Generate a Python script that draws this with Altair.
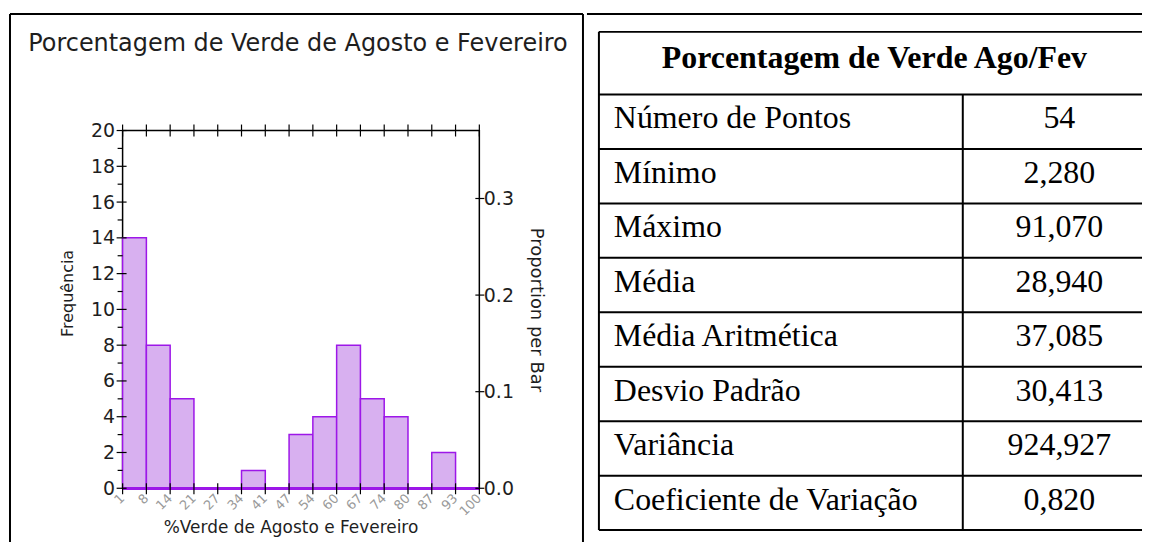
import altair as alt
import pandas as pd

# ---------------- data ----------------
bin_edges = [1.0, 7.6, 14.2, 20.8, 27.4, 34.0, 40.6, 47.2, 53.8, 60.4, 67.0, 73.6, 80.2, 86.8, 93.4, 100.0]
edge_labels = ["1", "8", "14", "21", "27", "34", "41", "47", "54", "60", "67", "74", "80", "87", "93", "100"]
counts = [14, 8, 5, 0, 0, 1, 0, 3, 4, 8, 5, 4, 0, 2, 0]
freq_major = [0, 2, 4, 6, 8, 10, 12, 14, 16, 18, 20]
freq_minor = [1, 3, 5, 7, 9, 11, 13, 15, 17, 19]
prop_ticks = [0.0, 0.1, 0.2, 0.3]

hist_title = "Porcentagem de Verde de Agosto e Fevereiro"
x_title = "%Verde de Agosto e Fevereiro"
y_title = "Frequência"
y2_title = "Proportion per Bar"

table_title = "Porcentagem de Verde Ago/Fev"
stat_names = ["Número de Pontos", "Mínimo", "Máximo", "Média", "Média Aritmética",
              "Desvio Padrão", "Variância", "Coeficiente de Variação"]
stat_values = ["54", "2,280", "91,070", "28,940", "37,085", "30,413", "924,927", "0,820"]

# ---------------- style ----------------
SANS = "DejaVu Sans"
SERIF = "Liberation Serif"
INK = "#1e1e1e"
PURPLE = "#9d17e8"
BAR_FILL = "#d8b0f0"
GRAY = "#9a9a9a"

W, H = 358, 359
n_points = sum(counts)

xs = alt.Scale(domain=[bin_edges[0], bin_edges[-1]], nice=False, zero=False)
ys = alt.Scale(domain=[0, 20], nice=False, zero=True)
ps = alt.Scale(domain=[0, 20 / n_points], nice=False, zero=True)

bins_df = pd.DataFrame({"lo": bin_edges[:-1], "hi": bin_edges[1:], "count": counts})
edges_df = pd.DataFrame({"edge": bin_edges, "label": edge_labels})
major_df = pd.DataFrame({"v": freq_major})
minor_df = pd.DataFrame({"v": freq_minor})
prop_df = pd.DataFrame({"p": prop_ticks})
htitle_df = pd.DataFrame({"t": [hist_title]})
xtitle_df = pd.DataFrame({"t": [x_title]})

bars = alt.Chart(bins_df).mark_rect(fill=BAR_FILL, stroke=PURPLE, strokeWidth=1.5).encode(
    x=alt.X("lo:Q", scale=xs, axis=None),
    x2="hi:Q",
    y=alt.Y("count:Q", scale=ys, axis=alt.Axis(
        values=freq_major, title=y_title, ticks=False, domain=False, grid=False,
        labelFont=SANS, labelFontSize=19, labelColor=INK, labelPadding=8, labelOverlap=False,
        titleFont=SANS, titleFontSize=16, titleFontWeight="normal", titleColor=INK,
        titlePadding=15, titleY=163)),
    y2=alt.Y2Datum(0),
)

baseline = alt.Chart(bins_df).mark_rule(color=PURPLE, strokeWidth=2).encode(
    x=alt.XDatum(bin_edges[0], scale=xs, axis=None),
    x2=alt.X2Datum(bin_edges[-1]),
    y=alt.YDatum(0, scale=ys, axis=None),
)

top_ticks = alt.Chart(edges_df).mark_rule(color="black", strokeWidth=1.2).encode(
    x=alt.X("edge:Q", scale=xs, axis=None), y=alt.value(-6), y2=alt.value(6))
bottom_ticks = alt.Chart(edges_df).mark_rule(color="black", strokeWidth=1.2).encode(
    x=alt.X("edge:Q", scale=xs, axis=None), y=alt.value(H - 5), y2=alt.value(H + 6))
major_ticks = alt.Chart(major_df).mark_rule(color="black", strokeWidth=1.2).encode(
    y=alt.Y("v:Q", scale=ys, axis=None), x=alt.value(-6), x2=alt.value(4))
minor_ticks = alt.Chart(minor_df).mark_rule(color="black", strokeWidth=1.2).encode(
    y=alt.Y("v:Q", scale=ys, axis=None), x=alt.value(-5), x2=alt.value(0))
prop_rules = alt.Chart(prop_df).mark_rule(color="black", strokeWidth=1.2).encode(
    y=alt.Y("p:Q", scale=ps, axis=alt.Axis(
        orient="right", values=prop_ticks, format=".1f", title=y2_title,
        ticks=False, domain=False, grid=False,
        labelFont=SANS, labelFontSize=19, labelColor=INK, labelPadding=4, labelOverlap=False,
        titleFont=SANS, titleFontSize=18, titleFontWeight="normal", titleColor=INK,
        titlePadding=13, titleAngle=90)),
    x=alt.value(W - 4), x2=alt.value(W + 5))

xlabels = alt.Chart(edges_df).mark_text(
    font=SANS, fontSize=13, color=GRAY, angle=315, align="right", baseline="middle"
).encode(x=alt.X("edge:Q", scale=xs, axis=None), y=alt.value(H + 8), text="label:N")

htitle = alt.Chart(htitle_df).mark_text(
    font=SANS, fontSize=24, color=INK, align="center", baseline="middle"
).encode(x=alt.value(176), y=alt.value(-87), text="t:N")

xtitle = alt.Chart(xtitle_df).mark_text(
    font=SANS, fontSize=17, color=INK, align="center", baseline="middle"
).encode(x=alt.value(169), y=alt.value(399), text="t:N")

frame_left = alt.Chart(htitle_df).mark_rule(color="black", strokeWidth=2).encode(
    x=alt.value(-113), y=alt.value(-117), y2=alt.value(420))
frame_top = alt.Chart(htitle_df).mark_rule(color="black", strokeWidth=2).encode(
    x=alt.value(-113), x2=alt.value(462), y=alt.value(-117))
frame_div = alt.Chart(htitle_df).mark_rule(color="black", strokeWidth=2).encode(
    x=alt.value(462), y=alt.value(-117), y2=alt.value(420))

left = alt.layer(
    bars, baseline, top_ticks, bottom_ticks, major_ticks, minor_ticks, prop_rules,
    xlabels, htitle, xtitle, frame_left, frame_top, frame_div,
    view=alt.ViewBackground(stroke="black", strokeWidth=1.5),
).resolve_scale(y="independent").properties(width=W, height=H)

# ---------------- table ----------------
# the table panel shares its origin row with the histogram plot (page y 129);
# its y range reaches up to the table top (page y 30) and down to its bottom (page y 530)
TW = 545
SPLIT = 0.67
tx = alt.Scale(domain=[0, 1], nice=False, zero=False)
ty = alt.Scale(domain=[-1.15, 8], range=[-99, 401], nice=False, zero=False)

rows_df = pd.DataFrame({"row": list(range(1, len(stat_names) + 1)),
                        "name": stat_names, "value": stat_values})
rows_df["top"] = rows_df["row"] - 1
hline_df = pd.DataFrame({"e": [-1.15] + list(range(0, len(stat_names) + 1))})
ttitle_df = pd.DataFrame({"t": [table_title]})

names = alt.Chart(rows_df).mark_text(
    font=SERIF, fontSize=32, color="black", align="left", baseline="alphabetic", dx=15, dy=34
).encode(x=alt.XDatum(0, scale=tx, axis=None), y=alt.Y("top:Q", scale=ty, axis=None), text="name:N")

vals = alt.Chart(rows_df).mark_text(
    font=SERIF, fontSize=32, color="black", align="center", baseline="alphabetic", dx=7, dy=34
).encode(x=alt.XDatum((SPLIT + 1) / 2, scale=tx, axis=None),
         y=alt.Y("top:Q", scale=ty, axis=None), text="value:N")

thead = alt.Chart(ttitle_df).mark_text(
    font=SERIF, fontSize=32, fontWeight="bold", color="black", align="center",
    baseline="alphabetic", dx=4, dy=36
).encode(x=alt.XDatum(0.5, scale=tx, axis=None), y=alt.YDatum(-1.15, scale=ty, axis=None), text="t:N")

hlines = alt.Chart(hline_df).mark_rule(color="black", strokeWidth=2).encode(
    x=alt.XDatum(0, scale=tx, axis=None), x2=alt.X2Datum(1),
    y=alt.Y("e:Q", scale=ty, axis=None))
vleft = alt.Chart(ttitle_df).mark_rule(color="black", strokeWidth=2).encode(
    x=alt.XDatum(0, scale=tx, axis=None),
    y=alt.YDatum(-1.15, scale=ty, axis=None), y2=alt.Y2Datum(8))
vsplit = alt.Chart(ttitle_df).mark_rule(color="black", strokeWidth=2).encode(
    x=alt.XDatum(SPLIT, scale=tx, axis=None),
    y=alt.YDatum(0, scale=ty, axis=None), y2=alt.Y2Datum(8))
frame_top2 = alt.Chart(ttitle_df).mark_rule(color="black", strokeWidth=2).encode(
    x=alt.value(-12), x2=alt.value(TW), y=alt.value(-117))

right = alt.layer(
    hlines, vleft, vsplit, frame_top2, thead, names, vals,
    view=alt.ViewBackground(stroke="transparent"),
).properties(width=TW, height=H)

chart = alt.hconcat(left, right, spacing=0).properties(
    padding={"left": 0, "top": 3, "right": 0, "bottom": 0},
    background="white",
).configure_view(stroke="transparent")

chart.save("out.html", embed_options={"renderer": "svg", "actions": False})
